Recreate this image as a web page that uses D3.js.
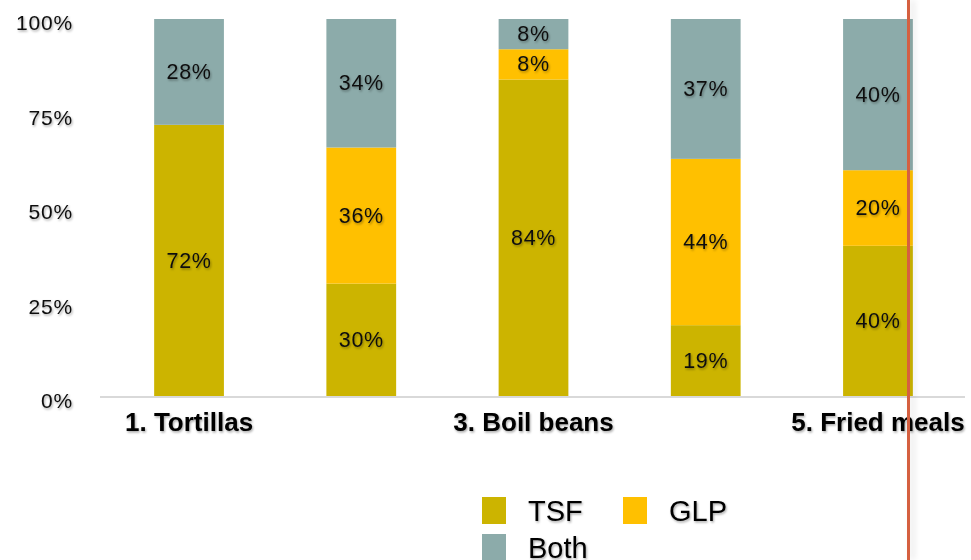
<!DOCTYPE html>
<html>
<head>
<meta charset="utf-8">
<script src="https://cdn.jsdelivr.net/npm/d3@7"></script>
<style>
  html, body { margin: 0; padding: 0; background: #fff; }
  svg { display: block; font-family: "Liberation Sans", Arial, Helvetica, sans-serif; }
</style>
</head>
<body>
<svg id="chart" width="971" height="560"></svg>
<script>
// Share of households by fuel type for each cooking task
const categories = ["1", "2", "3", "4", "5"];
const categoryLabels = ["1. Tortillas", "", "3. Boil beans", "", "5. Fried meals"];
const seriesNames = ["TSF", "GLP", "Both"];
const tsf  = [72, 30, 84, 19, 40];
const glp  = [0, 36, 8, 44, 20];
const both = [28, 34, 8, 37, 40];
const yTicks = [0, 25, 50, 75, 100];
const colors = ["#ccb400", "#ffc000", "#8cabaa"];

const svg = d3.select("#chart");

// soft text shadow
const defs = svg.append("defs");
defs.append("filter").attr("id", "txtShadow")
  .attr("x", "-20%").attr("y", "-30%").attr("width", "140%").attr("height", "160%")
  .append("feDropShadow")
  .attr("dx", 1).attr("dy", 1.5).attr("stdDeviation", 1)
  .attr("flood-color", "#000").attr("flood-opacity", 0.35);
defs.append("filter").attr("id", "lineShadow")
  .attr("filterUnits", "userSpaceOnUse")
  .attr("x", 890).attr("y", 0).attr("width", 60).attr("height", 560)
  .append("feDropShadow")
  .attr("dx", 4).attr("dy", 0).attr("stdDeviation", 3)
  .attr("flood-color", "#000").attr("flood-opacity", 0.12);

const margin = { top: 19, bottom: 163, left: 103, right: 7 };
const W = 971, H = 560;

const x = d3.scaleBand().domain(categories)
  .range([margin.left, W - margin.right]).paddingInner(0.595).paddingOuter(0.297);
const y = d3.scaleLinear().domain([0, 100]).range([H - margin.bottom, margin.top]);

const rows = categories.map((c, i) => ({ cat: c, TSF: tsf[i], GLP: glp[i], Both: both[i] }));
const stacked = d3.stack().keys(seriesNames)(rows);

// y axis labels only
const yAxis = d3.axisLeft(y).tickValues(yTicks).tickFormat(d => d + "%").tickSize(0).tickPadding(0);
const gy = svg.append("g").attr("transform", "translate(73,0)").call(yAxis);
gy.select(".domain").remove();
gy.selectAll("text")
  .attr("dy", "0.5em")
  .attr("font-size", 21).attr("letter-spacing", 0.8).attr("fill", "#111")
  .attr("font-family", "'Liberation Sans', Arial, sans-serif")
  .attr("filter", "url(#txtShadow)");

// bars
const layers = svg.append("g").selectAll("g").data(stacked).join("g")
  .attr("fill", (d, i) => colors[i]);
layers.selectAll("rect").data(d => d).join("rect")
  .attr("x", d => x(d.data.cat))
  .attr("width", x.bandwidth())
  .attr("y", d => y(d[1]))
  .attr("height", d => y(d[0]) - y(d[1]));

// value labels
const labels = svg.append("g");
stacked.forEach(layer => {
  layer.forEach(d => {
    const v = d[1] - d[0];
    if (v <= 0) return;
    labels.append("text")
      .attr("x", x(d.data.cat) + x.bandwidth() / 2)
      .attr("y", (y(d[0]) + y(d[1])) / 2)
      .attr("dy", "0.33em")
      .attr("text-anchor", "middle")
      .attr("font-size", 21.5).attr("letter-spacing", 0.6).attr("fill", "#111")
      .attr("filter", "url(#txtShadow)")
      .text(v + "%");
  });
});

// baseline and category axis
const xAxis = d3.axisBottom(x).tickSize(0).tickPadding(34)
  .tickFormat((d, i) => categoryLabels[i]);
const gx = svg.append("g").attr("transform", `translate(0,${y(0)})`).call(xAxis);
gx.select(".domain").attr("stroke", "#d9d9d9").attr("stroke-width", 2)
  .attr("d", `M${margin.left - 3},0H${W - margin.right + 1}`);
gx.selectAll("text")
  .attr("dy", 0)
  .attr("font-size", 26).attr("font-weight", "bold").attr("fill", "#000")
  .attr("font-family", "'Liberation Sans', Arial, sans-serif")
  .attr("filter", "url(#txtShadow)");

// legend
const legendPos = [[482, 497], [623, 497], [482, 534]];
const legend = svg.append("g");
seriesNames.forEach((name, i) => {
  const [lx, ly] = legendPos[i];
  legend.append("rect").attr("x", lx).attr("y", ly).attr("width", 24).attr("height", 27)
    .attr("fill", colors[i]);
  legend.append("text").attr("x", lx + 46).attr("y", ly + 24)
    .attr("font-size", 29).attr("fill", "#000")
    .attr("filter", "url(#txtShadow)")
    .text(name);
});

// vertical marker line
svg.append("rect")
  .attr("x", 907).attr("y", 0).attr("width", 3).attr("height", H)
  .attr("fill", "#d5603f")
  .attr("filter", "url(#lineShadow)");
</script>
</body>
</html>
